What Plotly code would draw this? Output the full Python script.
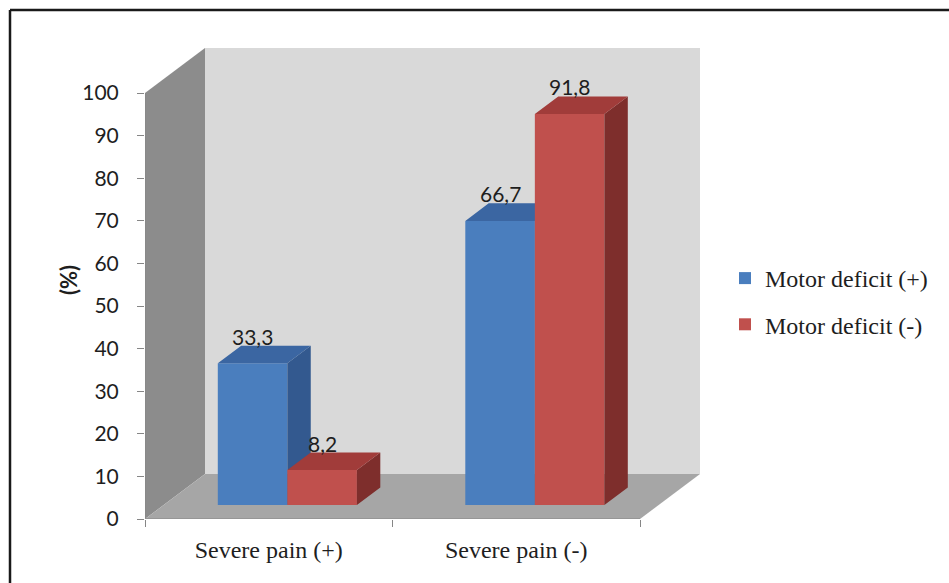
import plotly.graph_objects as go

# ---------------- data ----------------
categories = ["Severe pain (+)", "Severe pain (-)"]
series_names = ["Motor deficit (+)", "Motor deficit (-)"]
motor_plus = [33.3, 66.7]
motor_minus = [8.2, 91.8]
y_ticks = [0, 10, 20, 30, 40, 50, 60, 70, 80, 90, 100]

# ---------------- style / geometry ----------------
W_PX, H_PX = 949, 583
L, B, T = 145, 64, 42
PX_X = 247.5          # pixels per category unit
PX_Y = 4.26           # pixels per percent
plot_w = 569
plot_h = H_PX - B - T
XMAX = plot_w / PX_X
YMAX = plot_h / PX_Y

DX = 60 / PX_X        # wall depth in x units
DY = 45 / PX_Y        # wall depth in y units
F0, F1 = 0.31, 0.70   # bar depth (front/back fraction)
BW = 0.281            # bar width
centers = [i + 0.5 for i in range(len(categories))]

front_cols = ["#4a7ebe", "#c0504d"]
top_cols = ["#3b66a2", "#a13c3a"]
side_cols = ["#33598f", "#7e2e2c"]
AXIS_COL = "#868686"
TXT = "#1e1e1e"

fig = go.Figure()

values = [motor_plus, motor_minus]
axes = [("x", "y"), ("x2", "y2")]
for s, vals in enumerate(values):
    xa, ya = axes[s]
    off = -BW + s * BW + F0 * DX
    b0, b1 = F0 * DY, F1 * DY
    ddx = (F1 - F0) * DX
    # front faces as real bars
    fig.add_trace(go.Bar(
        x=centers, y=vals, base=[b0] * len(vals), width=BW, offset=off,
        marker=dict(color=front_cols[s], line=dict(width=0)),
        name=series_names[s], xaxis=xa, yaxis=ya,
        legendgroup=f"g{s}", hovertemplate="%{y}<extra></extra>"))
    # top and side faces derived from the same values
    tx, ty, sx, sy = [], [], [], []
    for c, v in zip(centers, vals):
        x0 = c + off
        x1 = x0 + BW
        tx += [x0, x1, x1 + ddx, x0 + ddx, x0, None]
        ty += [v + b0, v + b0, v + b1, v + b1, v + b0, None]
        sx += [x1, x1, x1 + ddx, x1 + ddx, x1, None]
        sy += [b0, v + b0, v + b1, b1, b0, None]
    fig.add_trace(go.Scatter(x=sx, y=sy, fill="toself", mode="lines",
                             line=dict(width=0), fillcolor=side_cols[s],
                             xaxis=xa, yaxis=ya, showlegend=False, hoverinfo="skip"))
    fig.add_trace(go.Scatter(x=tx, y=ty, fill="toself", mode="lines",
                             line=dict(width=0), fillcolor=top_cols[s],
                             xaxis=xa, yaxis=ya, showlegend=False, hoverinfo="skip"))
    # value labels
    for c, v in zip(centers, vals):
        fig.add_annotation(x=c + off + BW / 2, y=v + b1, xref="x", yref="y",
                           text=f"{v:.1f}".replace(".", ","), showarrow=False,
                           yanchor="bottom", yshift=-5,
                           font=dict(family="Lato", size=21, color=TXT))

n = len(categories)
shapes = [
    # side wall
    dict(type="path", xref="x", yref="y", layer="below", line=dict(width=0),
         fillcolor="#8c8c8c",
         path=f"M0,0 L0,100 L{DX},{100 + DY} L{DX},{DY} Z"),
    # back wall
    dict(type="path", xref="x", yref="y", layer="below", line=dict(width=0),
         fillcolor="#d9d9d9",
         path=f"M{DX},{DY} L{DX},{100 + DY} L{n + DX},{100 + DY} L{n + DX},{DY} Z"),
    # floor
    dict(type="path", xref="x", yref="y", layer="below", line=dict(width=0),
         fillcolor="#a6a6a6",
         path=f"M0,0 L{n},0 L{n + DX},{DY} L{DX},{DY} Z"),
    # axis lines
    dict(type="line", xref="x", yref="y", x0=0, y0=0, x1=0, y1=100,
         line=dict(color=AXIS_COL, width=1.2)),
    dict(type="line", xref="x", yref="y", x0=0, y0=0, x1=n, y1=0,
         line=dict(color=AXIS_COL, width=1.2)),
    # outer frame (top and left)
    dict(type="line", xref="paper", yref="paper",
         x0=(10 - L) / plot_w, x1=1.6, y0=(H_PX - B - 10) / plot_h, y1=(H_PX - B - 10) / plot_h,
         line=dict(color="#1a1a1a", width=2.5)),
    dict(type="line", xref="paper", yref="paper",
         x0=(10 - L) / plot_w, x1=(10 - L) / plot_w, y0=(H_PX - B - 10) / plot_h, y1=-0.2,
         line=dict(color="#1a1a1a", width=2.5)),
]

fig.add_annotation(text="<b>(%)</b>", xref="paper", yref="paper",
                   x=(68 - L) / plot_w, y=(H_PX - B - 280) / plot_h,
                   textangle=-90, showarrow=False, xanchor="center", yanchor="middle",
                   font=dict(family="Lato", size=22, color=TXT))

fig.update_layout(
    width=W_PX, height=H_PX,
    margin=dict(l=L, r=W_PX - L - plot_w, t=T, b=B, pad=0),
    paper_bgcolor="white", plot_bgcolor="rgba(0,0,0,0)",
    barmode="overlay", shapes=shapes,
    xaxis=dict(range=[0, XMAX], showgrid=False, zeroline=False, showline=False,
               tickvals=centers, ticktext=categories, ticks="",
               ticklabelstandoff=14,
               tickfont=dict(family="Liberation Serif", size=24, color=TXT),
               minor=dict(tickvals=list(range(n + 1)), ticks="outside", ticklen=7,
                          tickcolor=AXIS_COL, tickwidth=1.2, showgrid=False),
               fixedrange=True),
    yaxis=dict(range=[0, YMAX], showgrid=False, zeroline=False, showline=False,
               tickvals=y_ticks, ticks="outside", ticklen=7, tickcolor=AXIS_COL,
               tickwidth=1.2, ticklabelstandoff=14,
               tickfont=dict(family="Lato", size=21, color=TXT), fixedrange=True),
    xaxis2=dict(overlaying="x", matches="x", visible=False, range=[0, XMAX]),
    yaxis2=dict(overlaying="y", matches="y", visible=False, range=[0, YMAX]),
    legend=dict(x=(725 - L) / plot_w, y=(H_PX - B - 256) / plot_h,
                xanchor="left", yanchor="top", traceorder="grouped",
                tracegroupgap=12, bgcolor="rgba(0,0,0,0)",
                font=dict(family="Liberation Serif", size=24, color=TXT)),
)

fig.write_html("out.html")
